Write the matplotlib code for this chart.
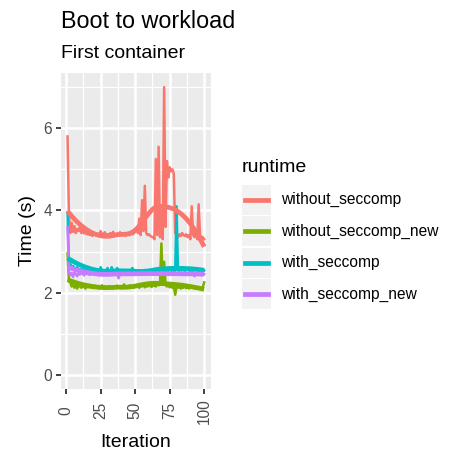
import numpy as np
import matplotlib
matplotlib.use("Agg")
import matplotlib.pyplot as plt
from matplotlib.legend_handler import HandlerBase
from matplotlib.patches import Rectangle
from matplotlib.lines import Line2D

plt.rcParams['font.family'] = ['Liberation Sans', 'DejaVu Sans']

# --------------------------
# Data
# --------------------------
iterations = np.arange(1, 101)

without_seccomp = [
    5.80, 3.90, 3.45, 3.70, 3.48, 3.62, 3.45, 3.55, 3.50, 3.60,
    3.45, 3.52, 3.44, 3.48, 3.42, 3.45, 3.40, 3.43, 3.38, 3.46,
    3.41, 3.40, 3.44, 3.38, 3.50, 3.40, 3.43, 3.47, 3.39, 3.42,
    3.40, 3.45, 3.38, 3.48, 3.41, 3.40, 3.44, 3.39, 3.47, 3.42,
    3.40, 3.45, 3.38, 3.43, 3.41, 3.40, 3.46, 3.42, 3.44, 3.50,
    3.55, 3.45, 3.80, 3.40, 4.25, 3.50, 4.60, 3.45, 3.40, 3.42,
    3.38, 3.36, 3.35, 3.30, 5.25, 3.40, 5.55, 3.35, 4.00, 3.30,
    7.00, 3.60, 5.20, 4.80, 5.05, 4.95, 5.00, 4.90, 3.45, 3.40,
    3.35, 3.42, 3.38, 3.45, 3.40, 3.38, 3.42, 3.35, 3.40, 3.30,
    4.10, 3.40, 3.35, 3.50, 3.30, 4.15, 3.40, 3.35, 3.35, 3.30]

without_seccomp_new = [
    2.95, 2.30, 2.25, 2.15, 2.20, 2.12, 2.18, 2.10, 2.20, 2.15,
    2.12, 2.18, 2.14, 2.10, 2.16, 2.13, 2.19, 2.12, 2.15, 2.11,
    2.17, 2.13, 2.15, 2.10, 2.14, 2.18, 2.12, 2.15, 2.13, 2.11,
    2.16, 2.12, 2.14, 2.10, 2.15, 2.13, 2.17, 2.12, 2.14, 2.11,
    2.15, 2.20, 2.13, 2.16, 2.12, 2.18, 2.14, 2.15, 2.12, 2.17,
    2.14, 2.16, 2.12, 2.18, 2.15, 2.20, 2.13, 2.17, 2.15, 2.19,
    2.16, 2.14, 2.20, 2.17, 2.15, 2.22, 2.18, 2.20, 3.20, 2.25,
    2.75, 2.20, 2.15, 2.18, 2.13, 2.16, 2.12, 2.15, 1.95, 2.14,
    2.12, 2.16, 2.10, 2.14, 2.12, 2.15, 2.11, 2.13, 2.10, 2.14,
    2.12, 2.15, 2.10, 2.13, 2.11, 2.14, 2.10, 2.12, 2.13, 2.25]

with_seccomp = [
    3.95, 2.75, 2.70, 2.62, 2.65, 2.60, 2.58, 2.62, 2.57, 2.55,
    2.58, 2.54, 2.56, 2.53, 2.55, 2.52, 2.54, 2.53, 2.51, 2.55,
    2.52, 2.54, 2.51, 2.53, 2.62, 2.52, 2.54, 2.51, 2.53, 2.60,
    2.52, 2.50, 2.62, 2.53, 2.51, 2.54, 2.60, 2.52, 2.50, 2.53,
    2.51, 2.54, 2.52, 2.50, 2.53, 2.51, 2.55, 2.60, 2.52, 2.50,
    2.53, 2.51, 2.54, 2.52, 2.50, 2.53, 2.55, 2.52, 2.50, 2.53,
    2.54, 2.52, 2.55, 2.53, 2.51, 2.54, 2.52, 2.55, 2.53, 2.56,
    2.54, 2.52, 2.55, 2.53, 2.56, 2.54, 2.52, 2.55, 2.53, 4.10,
    2.55, 2.53, 2.58, 2.54, 2.56, 2.53, 2.55, 2.57, 2.54, 2.52,
    2.56, 2.53, 2.55, 2.58, 2.54, 2.52, 2.55, 2.53, 2.56, 2.54]

with_seccomp_new = [
    3.60, 2.50, 2.42, 2.48, 2.38, 2.50, 2.45, 2.40, 2.48, 2.44,
    2.50, 2.46, 2.42, 2.48, 2.45, 2.47, 2.43, 2.49, 2.45, 2.47,
    2.44, 2.48, 2.46, 2.42, 2.49, 2.45, 2.47, 2.44, 2.48, 2.46,
    2.43, 2.49, 2.45, 2.47, 2.44, 2.48, 2.46, 2.35, 2.47, 2.45,
    2.48, 2.44, 2.47, 2.45, 2.49, 2.46, 2.43, 2.48, 2.45, 2.47,
    2.44, 2.48, 2.46, 2.45, 2.49, 2.47, 2.44, 2.48, 2.46, 2.45,
    2.48, 2.46, 2.44, 2.47, 2.45, 2.48, 2.46, 2.44, 2.49, 2.46,
    2.45, 2.48, 2.46, 2.44, 2.47, 2.45, 2.48, 2.46, 2.44, 2.47,
    2.45, 2.48, 2.46, 2.43, 2.47, 2.45, 2.48, 2.46, 2.44, 2.47,
    2.45, 2.48, 2.40, 2.47, 2.45, 2.48, 2.46, 2.42, 2.47, 2.45]

runtimes = ["without_seccomp", "without_seccomp_new", "with_seccomp", "with_seccomp_new"]
series = [without_seccomp, without_seccomp_new, with_seccomp, with_seccomp_new]
colors = ["#F8766D", "#7CAE00", "#00BFC4", "#C77CFF"]


# --------------------------
# loess smoother (like geom_smooth default: span 0.75, degree 2)
# --------------------------
def loess(x, y, span=0.75, n_out=80):
    x = np.asarray(x, float)
    y = np.asarray(y, float)
    q = int(np.floor(len(x) * span))
    xs = np.linspace(x.min(), x.max(), n_out)
    ys = np.empty_like(xs)
    for k, x0 in enumerate(xs):
        d = np.abs(x - x0)
        h = np.sort(d)[q - 1]
        w = np.clip(1 - (d / h) ** 3, 0, None) ** 3
        X = np.column_stack([np.ones_like(x), x - x0, (x - x0) ** 2])
        W = np.sqrt(w)
        beta = np.linalg.lstsq(X * W[:, None], y * W, rcond=None)[0]
        ys[k] = beta[0]
    return xs, ys


# --------------------------
# Figure
# --------------------------
W_PX = 451
fig = plt.figure(figsize=(W_PX / 100, W_PX / 100), dpi=100)
ax = fig.add_axes([60.7 / W_PX, 1 - 389.3 / W_PX, (211 - 60.7) / W_PX, (389.3 - 72.7) / W_PX])
ax.set_facecolor("#EBEBEB")

for vals, col in zip(series, colors):
    ax.plot(iterations, vals, color=col, linewidth=1.8, zorder=3)
for vals, col in zip(series, colors):
    sx, sy = loess(iterations, vals)
    ax.plot(sx, sy, color=col, linewidth=3.4, zorder=4, solid_capstyle='butt')

ax.set_xlim(1 - 4.95, 100 + 4.95)
ax.set_ylim(-0.35, 7.35)
ax.set_xticks([0, 25, 50, 75, 100])
ax.set_yticks([0, 2, 4, 6])
ax.set_xticks([12.5, 37.5, 62.5, 87.5], minor=True)
ax.set_yticks([1, 3, 5, 7], minor=True)
ax.grid(True, which='major', color='white', linewidth=1.8)
ax.grid(True, which='minor', color='white', linewidth=0.9)
ax.set_axisbelow(True)
for s in ax.spines.values():
    s.set_visible(False)

ax.tick_params(which='major', length=3.5, width=1.3, color='#333333',
               labelsize=11.2, labelcolor='#4D4D4D', pad=2.5)
ax.tick_params(which='minor', length=0)
ax.tick_params(axis='x', pad=12)
for lab in ax.get_xticklabels():
    lab.set_rotation(90)
    lab.set_va('center')
    lab.set_ha('center')

fig.text(60.7 / W_PX, 1 - 28.3 / W_PX, "Boot to workload", fontsize=16.8, va='baseline', ha='left')
fig.text(60.7 / W_PX, 1 - 58.3 / W_PX, "First container", fontsize=14, va='baseline', ha='left')
fig.text(135.9 / W_PX, 1 - 447 / W_PX, "Iteration", fontsize=14, va='baseline', ha='center')
fig.text(28 / W_PX, 1 - 231 / W_PX, "Time (s)", fontsize=14, va='center', ha='center', rotation=90)


# --------------------------
# Legend with grey key boxes
# --------------------------
class KeyHandler(HandlerBase):
    def create_artists(self, legend, orig_handle, xdescent, ydescent,
                       width, height, fontsize, trans):
        bg = Rectangle((-xdescent, -ydescent), width, height,
                       facecolor='#F2F2F2', edgecolor='none', transform=trans)
        y0 = -ydescent + height / 2
        ln = Line2D([-xdescent + width * 0.1, -xdescent + width * 0.9], [y0, y0],
                    color=orig_handle.get_color(), linewidth=3.4, transform=trans)
        return [bg, ln]


handles = [Line2D([], [], color=c) for c in colors]
leg = fig.legend(handles, runtimes, loc='upper left',
                 bbox_to_anchor=(241.7 / W_PX, 1 - 158.5 / W_PX),
                 frameon=False, fontsize=11.2, title="runtime", title_fontsize=14,
                 handler_map={Line2D: KeyHandler()},
                 handlelength=1.86, handleheight=2.59, labelspacing=0.1,
                 handletextpad=0.7, borderpad=0, borderaxespad=0, alignment='left')
leg._legend_box.sep = 6.5  # gap between title and keys (points)

fig.savefig("out.png", dpi=100)
